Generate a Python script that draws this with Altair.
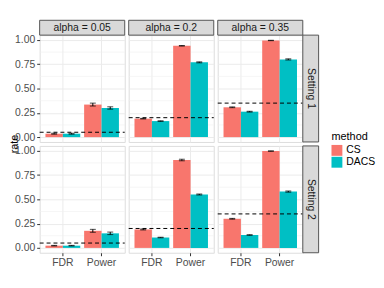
import altair as alt
import pandas as pd

alphas = [0.05, 0.2, 0.35]
alpha_labels = ["alpha = 0.05", "alpha = 0.2", "alpha = 0.35"]
settings = ["Setting 1", "Setting 2"]
metrics = ["FDR", "Power"]
methods = ["CS", "DACS"]

# order within each alpha: CS-FDR, DACS-FDR, CS-Power, DACS-Power
s1_rate = [[0.035, 0.035, 0.335, 0.300],
           [0.190, 0.165, 0.940, 0.770],
           [0.307, 0.262, 0.995, 0.800]]
s1_err = [[0.005, 0.005, 0.015, 0.012],
          [0.003, 0.003, 0.003, 0.005],
          [0.004, 0.004, 0.002, 0.006]]
s2_rate = [[0.023, 0.023, 0.176, 0.150],
           [0.190, 0.107, 0.905, 0.550],
           [0.300, 0.133, 0.997, 0.580]]
s2_err = [[0.003, 0.003, 0.015, 0.013],
          [0.005, 0.003, 0.008, 0.005],
          [0.004, 0.003, 0.002, 0.006]]

rows = []
for si, (rates, errs) in enumerate([(s1_rate, s1_err), (s2_rate, s2_err)]):
    for ai, a in enumerate(alphas):
        k = 0
        for m in metrics:
            for meth in methods:
                r, e = rates[ai][k], errs[ai][k]
                rows.append(dict(setting=settings[si], alpha=a, metric=m, method=meth,
                                 rate=r, lo=r - e, hi=r + e))
                k += 1
df = pd.DataFrame(rows)

W, H = 86, 108
FONT = "Liberation Sans"
LFS = 10.5
yscale = alt.Scale(domain=[-0.05, 1.05], nice=False, zero=False)
xscale = alt.Scale(domain=metrics, paddingInner=0.1, paddingOuter=0.15)
oscale = alt.Scale(domain=methods, paddingInner=0, paddingOuter=0)
cscale = alt.Scale(domain=methods, range=["#F8766D", "#00BFC4"])
legend = alt.Legend(title="method", orient="none", legendX=295, legendY=97,
                    symbolType="square", symbolSize=121, symbolStrokeWidth=0,
                    titleFontSize=11, labelFontSize=LFS, titleFont=FONT, labelFont=FONT,
                    titleFontWeight="normal", titleColor="#000000", labelColor="#000000",
                    rowPadding=1, titlePadding=3, labelOffset=4)


def panel(si, ai):
    d = df[(df.setting == settings[si]) & (df.alpha == alphas[ai])]
    left = ai == 0
    bottom = si == 1
    yaxis = alt.Axis(values=[0, 0.25, 0.5, 0.75, 1.0], format=".2f", grid=True,
                     gridColor="#EBEBEB", gridWidth=1, labels=left, ticks=left,
                     domain=False, title=None, labelFontSize=LFS, labelFont=FONT,
                     labelColor="#4D4D4D", tickColor="#333333", tickSize=3, labelPadding=2)
    xaxis = alt.Axis(grid=True, bandPosition=0.5, gridColor="#EBEBEB", gridWidth=1,
                     labels=bottom, ticks=bottom, domain=False, title=None, labelAngle=0,
                     labelFontSize=LFS, labelFont=FONT, labelColor="#4D4D4D",
                     tickColor="#333333", tickSize=3, tickBand="center", labelPadding=2)
    X = alt.X("metric:N", scale=xscale, axis=xaxis)
    XO = alt.XOffset("method:N", scale=oscale)
    base = alt.Chart(d)
    minor = alt.Chart(pd.DataFrame({"v": [0.125, 0.375, 0.625, 0.875]})).mark_rule(
        color="#F0F0F0", strokeWidth=0.6).encode(
        y=alt.Y("v:Q", scale=yscale, axis=yaxis), x=alt.value(0), x2=alt.value(W))
    bars = base.mark_bar().encode(
        x=X, xOffset=XO,
        y=alt.Y("rate:Q", scale=yscale, axis=yaxis), y2=alt.datum(0),
        color=alt.Color("method:N", scale=cscale, legend=legend))
    err = base.mark_rule(color="black", strokeWidth=1).encode(
        x=X, xOffset=XO, y=alt.Y("lo:Q", scale=yscale, axis=yaxis), y2="hi:Q")
    cap_lo = base.mark_tick(color="black", size=6, thickness=1, orient="horizontal").encode(
        x=X, xOffset=XO, y=alt.Y("lo:Q", scale=yscale, axis=yaxis))
    cap_hi = base.mark_tick(color="black", size=6, thickness=1, orient="horizontal").encode(
        x=X, xOffset=XO, y=alt.Y("hi:Q", scale=yscale, axis=yaxis))
    aline = alt.Chart(pd.DataFrame({"a": [alphas[ai]]})).mark_rule(
        color="black", strokeDash=[4, 3], strokeWidth=1).encode(
        y=alt.Y("a:Q", scale=yscale, axis=yaxis), x=alt.value(0), x2=alt.value(W))
    layers = [minor, bars, err, cap_lo, cap_hi, aline]
    if si == 0:
        sd = alt.Chart(pd.DataFrame({"label": [alpha_labels[ai]]}))
        layers.append(sd.mark_rect(fill="#D9D9D9", stroke="#555555", strokeWidth=1).encode(
            x=alt.value(0), x2=alt.value(W), y=alt.value(-15), y2=alt.value(0)))
        layers.append(sd.mark_text(fontSize=LFS, font=FONT, color="#1A1A1A",
                                   baseline="middle", align="center").encode(
            x=alt.value(W / 2), y=alt.value(-7.5), text="label:N"))
    if ai == 2:
        rd = alt.Chart(pd.DataFrame({"label": [settings[si]]}))
        layers.append(rd.mark_rect(fill="#D9D9D9", stroke="#555555", strokeWidth=1).encode(
            x=alt.value(W), x2=alt.value(W + 16), y=alt.value(0), y2=alt.value(H)))
        layers.append(rd.mark_text(fontSize=LFS, font=FONT, color="#1A1A1A", angle=90,
                                   baseline="middle", align="center").encode(
            x=alt.value(W + 8), y=alt.value(H / 2), text="label:N"))
    if si == 0 and ai == 0:
        td = alt.Chart(pd.DataFrame({"label": ["rate"]}))
        layers.append(td.mark_text(fontSize=11, font=FONT, color="#000000", angle=270,
                                   baseline="middle", align="center").encode(
            x=alt.value(-25), y=alt.value(H + 2), text="label:N"))
    return alt.layer(*layers).properties(width=W, height=H)


panels = [panel(si, ai) for si in range(2) for ai in range(3)]
chart = alt.concat(*panels, columns=3, spacing=4, bounds="flush").properties(
    padding={"left": 0, "top": 10, "right": 0, "bottom": 0}
).configure_view(stroke="#555555", strokeWidth=1).configure(background="white")

chart.save("out.html", embed_options={"renderer": "svg", "actions": False})
